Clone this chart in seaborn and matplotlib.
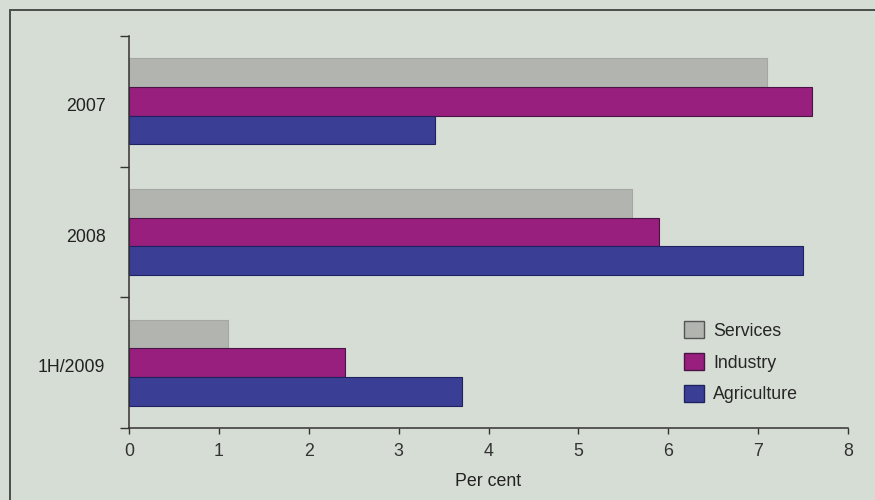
import matplotlib
matplotlib.use("Agg")
import matplotlib.pyplot as plt
import matplotlib.transforms as mtransforms
from matplotlib.lines import Line2D
from matplotlib.patches import Patch
import seaborn as sns
import pandas as pd

periods = ["2007", "2008", "1H/2009"]
sectors = ["Services", "Industry", "Agriculture"]
services = [7.1, 5.6, 1.1]
industry = [7.6, 5.9, 2.4]
agriculture = [3.4, 7.5, 3.7]
x_ticks = [0, 1, 2, 3, 4, 5, 6, 7, 8]

bg = "#d6ddd4"
palette = {"Services": "#b2b4b0", "Industry": "#981f7e", "Agriculture": "#3a3f95"}
edges = {"Services": "#a5a7a3", "Industry": "#4a1446", "Agriculture": "#1f2260"}
fs = 12.8

df = pd.DataFrame({
    "period": periods * 3,
    "sector": [s for s in sectors for _ in periods],
    "value": services + industry + agriculture,
})

sns.set_theme(style="white")
plt.rcParams["font.family"] = ["Liberation Sans", "DejaVu Sans"]

fig = plt.figure(figsize=(8.75, 5), dpi=100, facecolor=bg)
ax = fig.add_axes([129 / 875, 1 - 428 / 500, (848 - 129) / 875, (428 - 36) / 500])
ax.set_facecolor(bg)

sns.barplot(data=df, y="period", x="value", hue="sector", order=periods,
            hue_order=sectors, palette=palette, orient="h", width=0.66,
            saturation=1, legend=False, ax=ax)

# darker outlines on each bar, per sector
for container, sector in zip(ax.containers, sectors):
    for bar in container:
        bar.set_edgecolor(edges[sector])
        bar.set_linewidth(0.8)

ax.set_xlim(0, 8)
ax.set_ylim(2.5, -0.5)
ax.set_xticks(x_ticks)
ax.set_xticklabels([str(t) for t in x_ticks])
ax.set_yticks([0, 1, 2])
ax.set_yticklabels(periods)
ax.set_yticks([-0.5, 0.5, 1.5, 2.5], minor=True)

ax.tick_params(axis="y", which="major", length=0, pad=17, labelsize=fs, colors="#222222")
ax.tick_params(axis="y", which="minor", length=6.5, width=1.0, color="#333333", left=True)
ax.tick_params(axis="x", which="major", length=4, width=1.0, color="#333333",
               pad=7, labelsize=fs, labelcolor="#333333", bottom=True)

# period labels sit slightly below the group centres
shift = mtransforms.ScaledTranslation(0, -3 / 100, fig.dpi_scale_trans)
for lbl in ax.get_yticklabels():
    lbl.set_transform(lbl.get_transform() + shift)

for side in ["top", "right"]:
    ax.spines[side].set_visible(False)
for side in ["left", "bottom"]:
    ax.spines[side].set_color("#333333")
    ax.spines[side].set_linewidth(1.1)

ax.set_ylabel("")
ax.set_xlabel("Per cent", fontsize=fs, color="#222222", labelpad=9)

handles = [Patch(facecolor=palette[s], edgecolor=edges[s] if s != "Services" else "#555555",
                 linewidth=1.0) for s in sectors]
ax.legend(handles, sectors, loc="upper left", bbox_to_anchor=(0.772, 0.272),
          frameon=False, fontsize=fs, handlelength=1.1, handleheight=1.1,
          labelspacing=0.74, handletextpad=0.55, borderaxespad=0, borderpad=0)

# page border
fig.add_artist(Line2D([10 / 875, 1.0], [1 - 10 / 500, 1 - 10 / 500],
                      transform=fig.transFigure, color="#4a4e4a", lw=1.4))
fig.add_artist(Line2D([10 / 875, 10 / 875], [0.0, 1 - 10 / 500],
                      transform=fig.transFigure, color="#4a4e4a", lw=1.4))

fig.savefig("out.png", dpi=100, facecolor=bg)
